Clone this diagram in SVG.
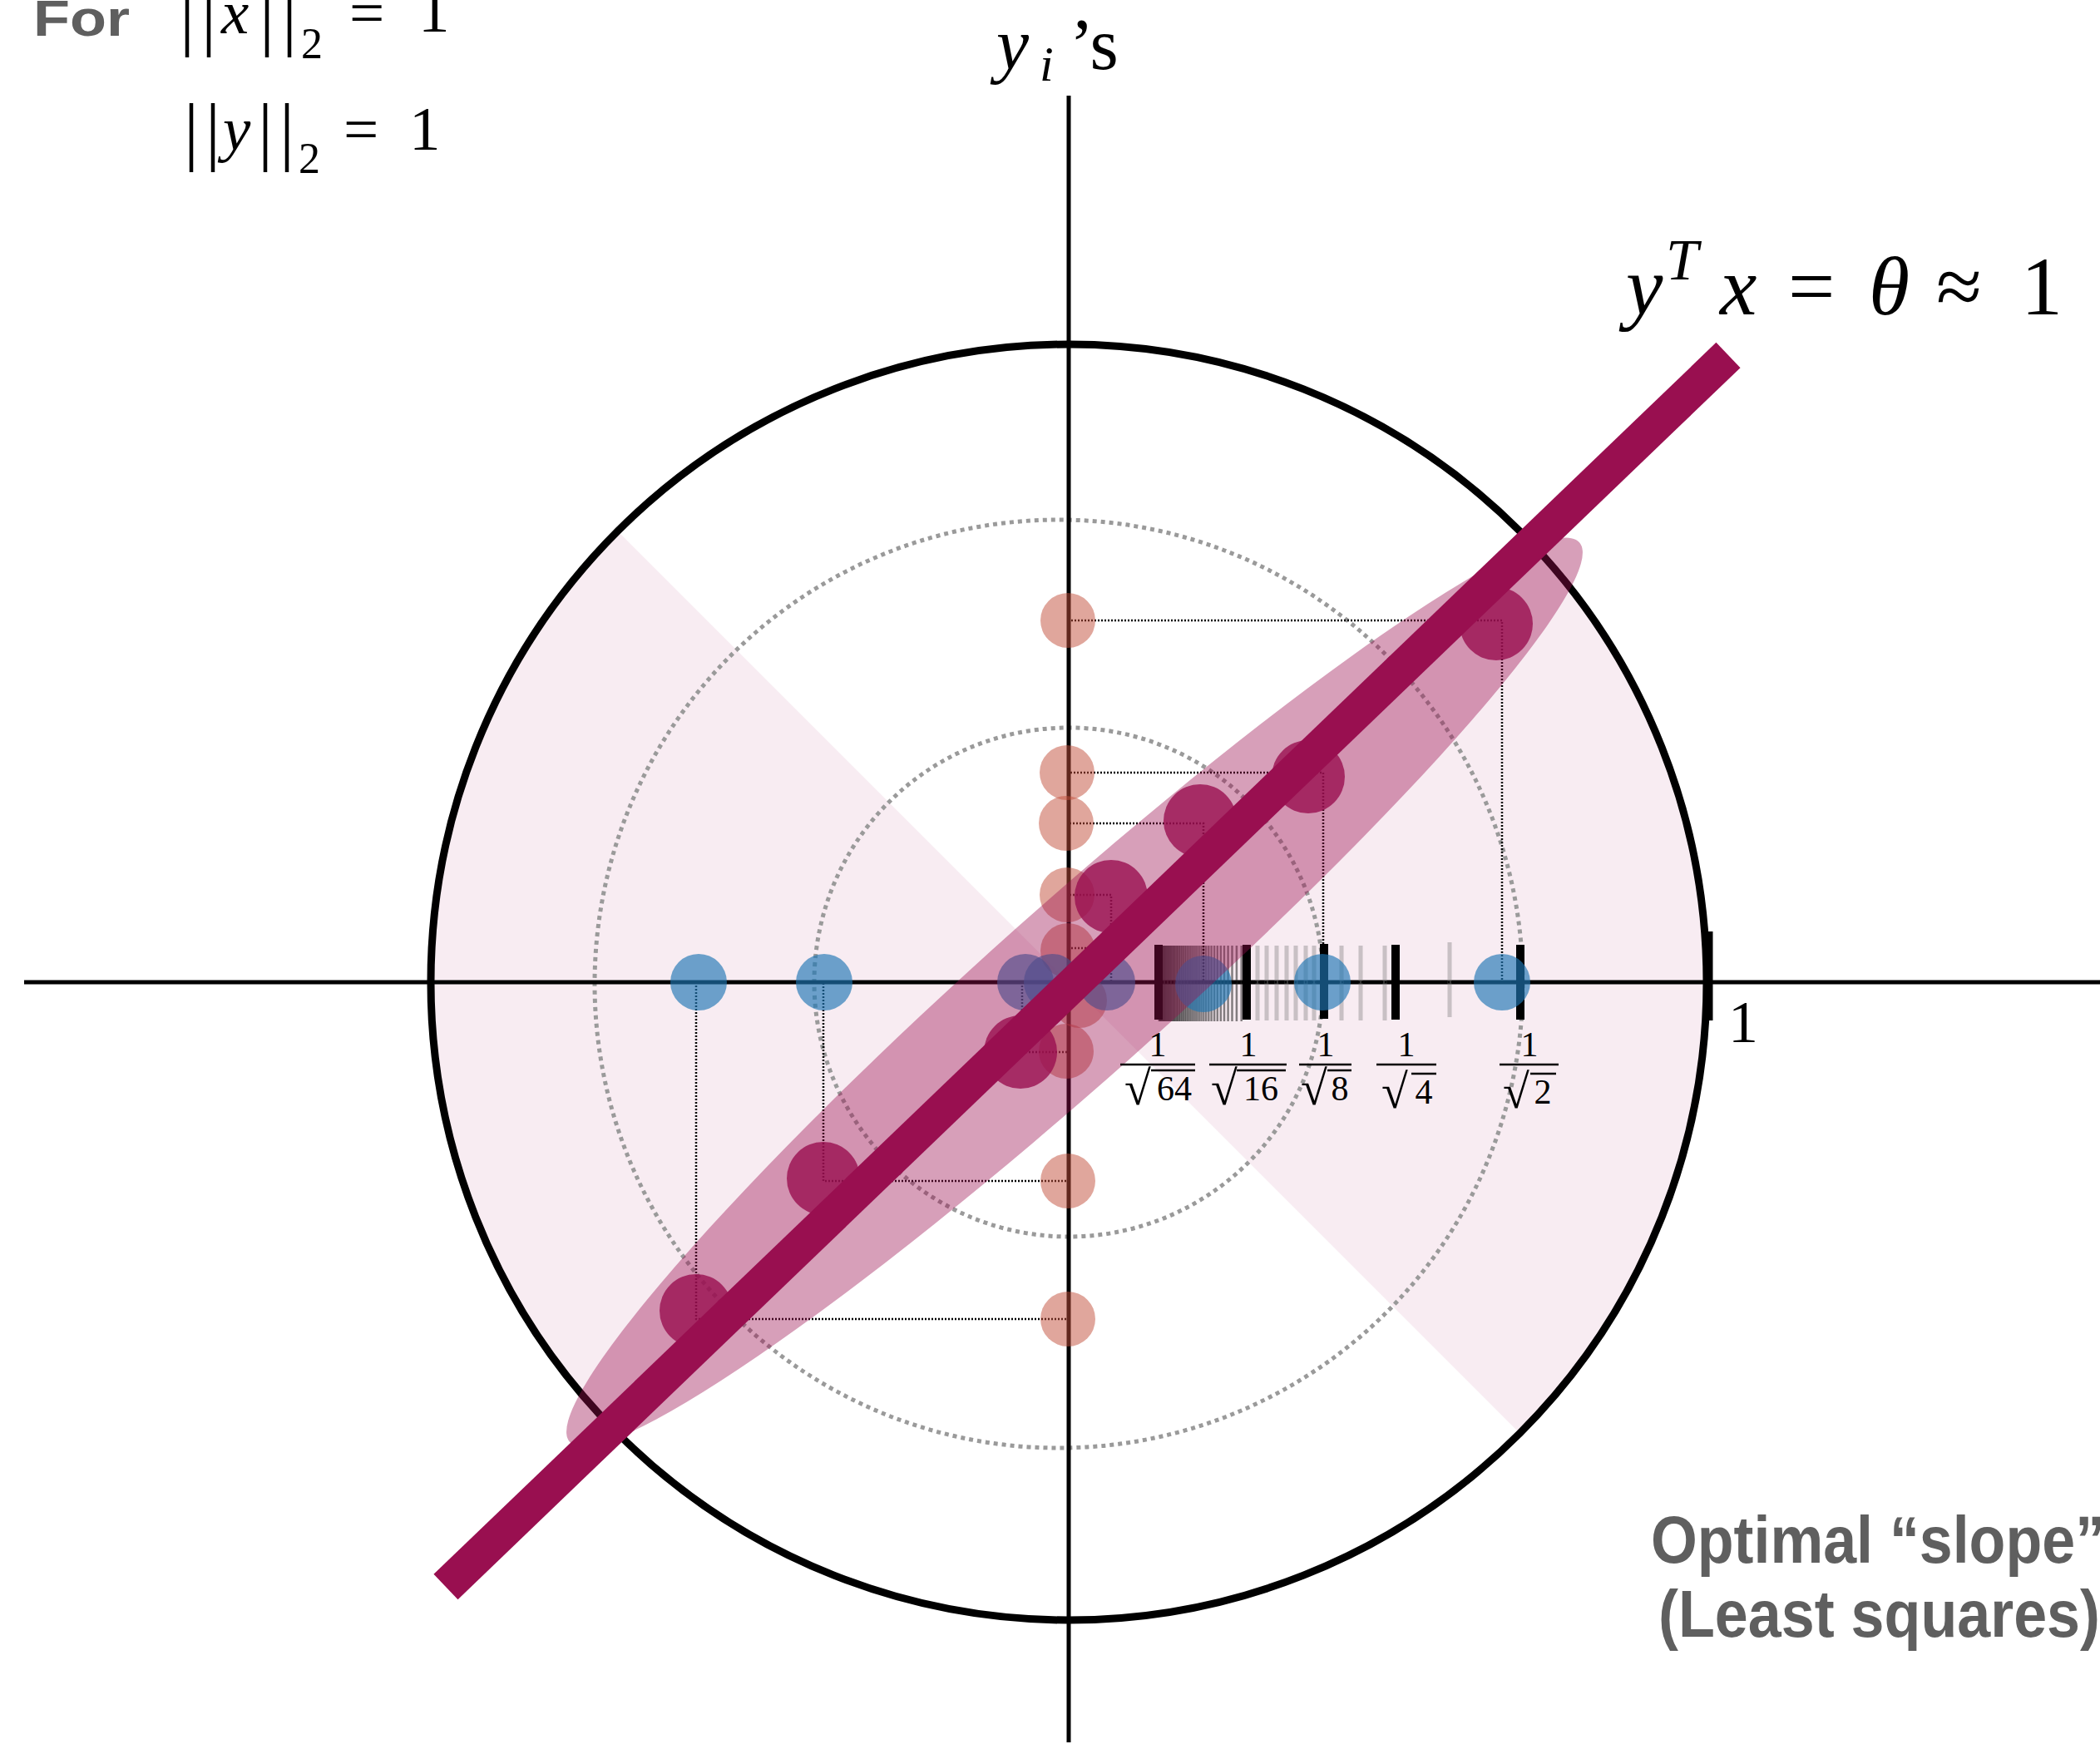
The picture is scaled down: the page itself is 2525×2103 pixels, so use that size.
<svg xmlns="http://www.w3.org/2000/svg" width="2525" height="2103" viewBox="0 0 2525 2103">
<style>
.math{font-family:"Liberation Serif","DejaVu Serif",serif;fill:#000}
.it{font-style:italic}
.lbl{font-family:"Liberation Sans",Arial,sans-serif;font-weight:bold;fill:#5f5f5f}
.axis{stroke:#000;stroke-width:5;fill:none}
.gdot{stroke:#9a9a9a;stroke-width:5;stroke-dasharray:5 5;fill:none}
.tk{stroke:#000;stroke-width:10}
.lt{stroke:#808080;stroke-opacity:0.4;stroke-width:5}
.dt{stroke:#202020;stroke-opacity:0.55;stroke-width:2.5}
.rect{stroke:#000;stroke-width:2.5;stroke-dasharray:2 2;fill:none}
.blue{fill:#1f77b4;fill-opacity:0.65}
.sal{fill:#c24e3a;fill-opacity:0.5}
.mar{fill:#9a0f50;fill-opacity:0.8}
.bar{stroke:#000;stroke-width:2.5}
.rad{font-size:58px}
</style>
<rect x="0" y="0" width="2525" height="2103" fill="#fff"/>

<g id="pale-sectors" fill="#f8ecf2">
<path d="M1285 1181 L742.6 638.6 A767 767 0 0 0 742.6 1723.4 Z"/>
<path d="M1285 1181 L1827.4 1723.4 A767 767 0 0 0 1827.4 638.6 Z"/>
</g>

<g id="dotted-circles">
<circle class="gdot" cx="1285" cy="1181" r="306"/>
<circle class="gdot" cx="1273" cy="1183" r="558"/>
</g>

<g id="unit-circle">
<circle cx="1285" cy="1181" r="767" fill="none" stroke="#000" stroke-width="9"/>
<line x1="2056" y1="1120" x2="2056" y2="1227" stroke="#000" stroke-width="7"/>
</g>

<g id="axes">
<line class="axis" x1="29" y1="1181" x2="2525" y2="1181"/>
<line class="axis" x1="1285" y1="115" x2="1285" y2="2095"/>
</g>

<g id="ticks">
<line class="dt" x1="1492.7" y1="1137" x2="1492.7" y2="1228"/>
<line class="dt" x1="1486.9" y1="1137" x2="1486.9" y2="1228"/>
<line class="dt" x1="1481.5" y1="1137" x2="1481.5" y2="1228"/>
<line class="dt" x1="1476.6" y1="1137" x2="1476.6" y2="1228"/>
<line class="dt" x1="1472.0" y1="1137" x2="1472.0" y2="1228"/>
<line class="dt" x1="1467.8" y1="1137" x2="1467.8" y2="1228"/>
<line class="dt" x1="1463.8" y1="1137" x2="1463.8" y2="1228"/>
<line class="dt" x1="1460.1" y1="1137" x2="1460.1" y2="1228"/>
<line class="dt" x1="1456.6" y1="1137" x2="1456.6" y2="1228"/>
<line class="dt" x1="1453.3" y1="1137" x2="1453.3" y2="1228"/>
<line class="dt" x1="1450.2" y1="1137" x2="1450.2" y2="1228"/>
<line class="dt" x1="1447.3" y1="1137" x2="1447.3" y2="1228"/>
<line class="dt" x1="1444.5" y1="1137" x2="1444.5" y2="1228"/>
<line class="dt" x1="1441.8" y1="1137" x2="1441.8" y2="1228"/>
<line class="dt" x1="1439.3" y1="1137" x2="1439.3" y2="1228"/>
<line class="dt" x1="1436.9" y1="1137" x2="1436.9" y2="1228"/>
<line class="dt" x1="1434.6" y1="1137" x2="1434.6" y2="1228"/>
<line class="dt" x1="1432.4" y1="1137" x2="1432.4" y2="1228"/>
<line class="dt" x1="1430.3" y1="1137" x2="1430.3" y2="1228"/>
<line class="dt" x1="1428.3" y1="1137" x2="1428.3" y2="1228"/>
<line class="dt" x1="1426.4" y1="1137" x2="1426.4" y2="1228"/>
<line class="dt" x1="1424.6" y1="1137" x2="1424.6" y2="1228"/>
<line class="dt" x1="1422.8" y1="1137" x2="1422.8" y2="1228"/>
<line class="dt" x1="1421.1" y1="1137" x2="1421.1" y2="1228"/>
<line class="dt" x1="1419.4" y1="1137" x2="1419.4" y2="1228"/>
<line class="dt" x1="1417.8" y1="1137" x2="1417.8" y2="1228"/>
<line class="dt" x1="1416.3" y1="1137" x2="1416.3" y2="1228"/>
<line class="dt" x1="1414.8" y1="1137" x2="1414.8" y2="1228"/>
<line class="dt" x1="1413.4" y1="1137" x2="1413.4" y2="1228"/>
<line class="dt" x1="1412.0" y1="1137" x2="1412.0" y2="1228"/>
<line class="dt" x1="1410.7" y1="1137" x2="1410.7" y2="1228"/>
<line class="dt" x1="1409.4" y1="1137" x2="1409.4" y2="1228"/>
<line class="dt" x1="1408.1" y1="1137" x2="1408.1" y2="1228"/>
<line class="dt" x1="1406.9" y1="1137" x2="1406.9" y2="1228"/>
<line class="dt" x1="1405.7" y1="1137" x2="1405.7" y2="1228"/>
<line class="dt" x1="1404.6" y1="1137" x2="1404.6" y2="1228"/>
<line class="dt" x1="1403.5" y1="1137" x2="1403.5" y2="1228"/>
<line class="dt" x1="1402.4" y1="1137" x2="1402.4" y2="1228"/>
<line class="dt" x1="1401.3" y1="1137" x2="1401.3" y2="1228"/>
<line class="dt" x1="1400.3" y1="1137" x2="1400.3" y2="1228"/>
<line class="dt" x1="1399.3" y1="1137" x2="1399.3" y2="1228"/>
<line class="dt" x1="1398.4" y1="1137" x2="1398.4" y2="1228"/>
<line class="dt" x1="1397.4" y1="1137" x2="1397.4" y2="1228"/>
<line class="dt" x1="1396.5" y1="1137" x2="1396.5" y2="1228"/>
<line class="dt" x1="1395.6" y1="1137" x2="1395.6" y2="1228"/>
<line class="dt" x1="1394.7" y1="1137" x2="1394.7" y2="1228"/>
<line class="dt" x1="1393.8" y1="1137" x2="1393.8" y2="1228"/>
<line class="lt" x1="1512" y1="1137" x2="1512" y2="1227"/>
<line class="lt" x1="1523" y1="1137" x2="1523" y2="1227"/>
<line class="lt" x1="1535" y1="1137" x2="1535" y2="1227"/>
<line class="lt" x1="1547" y1="1137" x2="1547" y2="1227"/>
<line class="lt" x1="1558" y1="1137" x2="1558" y2="1227"/>
<line class="lt" x1="1570" y1="1137" x2="1570" y2="1227"/>
<line class="lt" x1="1580" y1="1137" x2="1580" y2="1227"/>
<line class="lt" x1="1613" y1="1137" x2="1613" y2="1227"/>
<line class="lt" x1="1636" y1="1137" x2="1636" y2="1227"/>
<line class="lt" x1="1665" y1="1137" x2="1665" y2="1227"/>
<line class="lt" x1="1743" y1="1133" x2="1743" y2="1223"/>
<line class="tk" x1="1393" y1="1136" x2="1393" y2="1226"/>
<line class="tk" x1="1499" y1="1136" x2="1499" y2="1226"/>
<line class="tk" x1="1592" y1="1135" x2="1592" y2="1225"/>
<line class="tk" x1="1678" y1="1136" x2="1678" y2="1226"/>
<line class="tk" x1="1828" y1="1136" x2="1828" y2="1226"/>
</g>

<g id="projections">
<path class="rect" d="M1285 1181 L1806 1181 L1806 746 L1285 746 Z"/>
<path class="rect" d="M1285 1181 L1591 1181 L1591 929 L1285 929 Z"/>
<path class="rect" d="M1285 1181 L1447 1181 L1447 990 L1285 990 Z"/>
<path class="rect" d="M1285 1181 L1336 1181 L1336 1076 L1285 1076 Z"/>
<path class="rect" d="M1285 1181 L1307 1181 L1307 1140 L1285 1140 Z"/>
<path class="rect" d="M1285 1181 L1265 1181 L1265 1203 L1285 1203 Z"/>
<path class="rect" d="M1285 1181 L1229 1181 L1229 1265 L1285 1265 Z"/>
<path class="rect" d="M1285 1181 L990 1181 L990 1420 L1285 1420 Z"/>
<path class="rect" d="M1285 1181 L837 1181 L837 1586 L1285 1586 Z"/>
</g>

<g id="y-values">
<circle class="sal" cx="1284" cy="746" r="33"/>
<circle class="sal" cx="1283" cy="929" r="33"/>
<circle class="sal" cx="1282" cy="990" r="33"/>
<circle class="sal" cx="1283" cy="1076" r="33"/>
<circle class="sal" cx="1284" cy="1143" r="33"/>
<circle class="sal" cx="1298" cy="1203" r="33"/>
<circle class="sal" cx="1282" cy="1264" r="33"/>
<circle class="sal" cx="1284" cy="1420" r="33"/>
<circle class="sal" cx="1284" cy="1586" r="33"/>
</g>

<g id="x-values">
<circle class="blue" cx="840" cy="1181" r="34"/>
<circle class="blue" cx="991" cy="1181" r="34"/>
<circle class="blue" cx="1233" cy="1181" r="34"/>
<circle class="blue" cx="1265" cy="1181" r="34"/>
<circle class="blue" cx="1331" cy="1181" r="34"/>
<circle class="blue" cx="1447" cy="1183" r="34"/>
<circle class="blue" cx="1590" cy="1181" r="34"/>
<circle class="blue" cx="1806" cy="1181" r="34"/>
</g>

<g id="ellipse">
<ellipse cx="1292" cy="1193" rx="813" ry="104" transform="rotate(-41.7 1292 1193)" fill="#9a0f50" fill-opacity="0.4"/>
</g>

<g id="points">
<circle class="mar" cx="1799" cy="750" r="44"/>
<circle class="mar" cx="1573" cy="934" r="44"/>
<circle class="mar" cx="1443" cy="987" r="44"/>
<circle class="mar" cx="1336" cy="1078" r="44"/>
<circle class="mar" cx="1227" cy="1265" r="44"/>
<circle class="mar" cx="990" cy="1417" r="44"/>
<circle class="mar" cx="837" cy="1576" r="44"/>
</g>

<g id="fit-line">
<line x1="536" y1="1908" x2="2078" y2="427" stroke="#990f50" stroke-width="42"/>
</g>

<g id="tick-labels" class="math">
<text x="1392" y="1270" font-size="42" text-anchor="middle">1</text>
<line class="bar" x1="1347" y1="1280" x2="1437" y2="1280"/>
<text x="1368" y="1328" class="rad" text-anchor="middle">√</text>
<text x="1412" y="1323" font-size="42" text-anchor="middle">64</text>
<line class="bar" x1="1384" y1="1287" x2="1437" y2="1287"/>

<text x="1501" y="1270" font-size="42" text-anchor="middle">1</text>
<line class="bar" x1="1454" y1="1280" x2="1547" y2="1280"/>
<text x="1472" y="1328" class="rad" text-anchor="middle">√</text>
<text x="1516" y="1323" font-size="42" text-anchor="middle">16</text>
<line class="bar" x1="1487" y1="1287" x2="1546" y2="1287"/>

<text x="1594" y="1270" font-size="42" text-anchor="middle">1</text>
<line class="bar" x1="1562" y1="1280" x2="1625" y2="1280"/>
<text x="1580" y="1328" class="rad" text-anchor="middle">√</text>
<text x="1611" y="1323" font-size="42" text-anchor="middle">8</text>
<line class="bar" x1="1596" y1="1287" x2="1625" y2="1287"/>

<text x="1691" y="1270" font-size="42" text-anchor="middle">1</text>
<line class="bar" x1="1655" y1="1280" x2="1727" y2="1280"/>
<text x="1677" y="1332" class="rad" text-anchor="middle">√</text>
<text x="1712" y="1327" font-size="42" text-anchor="middle">4</text>
<line class="bar" x1="1697" y1="1291" x2="1727" y2="1291"/>

<text x="1839" y="1270" font-size="42" text-anchor="middle">1</text>
<line class="bar" x1="1803" y1="1280" x2="1874" y2="1280"/>
<text x="1823" y="1332" class="rad" text-anchor="middle">√</text>
<text x="1855" y="1327" font-size="42" text-anchor="middle">2</text>
<line class="bar" x1="1840" y1="1291" x2="1871" y2="1291"/>

<text x="2078" y="1253" font-size="72">1</text>
</g>

<g id="axis-label" class="math">
<text x="1198" y="83" font-size="88" class="it">y</text>
<text x="1250" y="97" font-size="60" class="it">i</text>
<text x="1286" y="83" font-size="88">’s</text>
</g>

<g id="line-label" class="math">
<text x="1955" y="378" font-size="100" class="it">y</text>
<text x="2003" y="336" font-size="70" class="it">T</text>
<text x="2068" y="378" font-size="100" class="it">x</text>
<text x="2150" y="378" font-size="100">=</text>
<text x="2247" y="378" font-size="100" class="it">θ</text>
<text x="2328" y="378" font-size="100">≈</text>
<text x="2430" y="378" font-size="100">1</text>
</g>

<g id="norm-constraints" class="math">
<text x="225" y="50" font-size="90" text-anchor="middle">|</text>
<text x="251" y="50" font-size="90" text-anchor="middle">|</text>
<text x="266" y="40" font-size="75" class="it">x</text>
<text x="321" y="50" font-size="90" text-anchor="middle">|</text>
<text x="348" y="50" font-size="90" text-anchor="middle">|</text>
<text x="362" y="70" font-size="52">2</text>
<text x="420" y="40" font-size="75">=</text>
<text x="503" y="38" font-size="75">1</text>

<text x="230" y="188" font-size="90" text-anchor="middle">|</text>
<text x="256" y="188" font-size="90" text-anchor="middle">|</text>
<text x="268" y="180" font-size="75" class="it">y</text>
<text x="319" y="188" font-size="90" text-anchor="middle">|</text>
<text x="345" y="188" font-size="90" text-anchor="middle">|</text>
<text x="359" y="208" font-size="52">2</text>
<text x="413" y="180" font-size="75">=</text>
<text x="492" y="180" font-size="75">1</text>
</g>

<g id="captions" class="lbl">
<text x="40" y="43" font-size="62" textLength="116" lengthAdjust="spacingAndGlyphs">For</text>
<text x="1985" y="1879" font-size="79" textLength="546" lengthAdjust="spacingAndGlyphs">Optimal “slope”</text>
<text x="1994" y="1968" font-size="79" textLength="531" lengthAdjust="spacingAndGlyphs">(Least squares)</text>
</g>
</svg>
